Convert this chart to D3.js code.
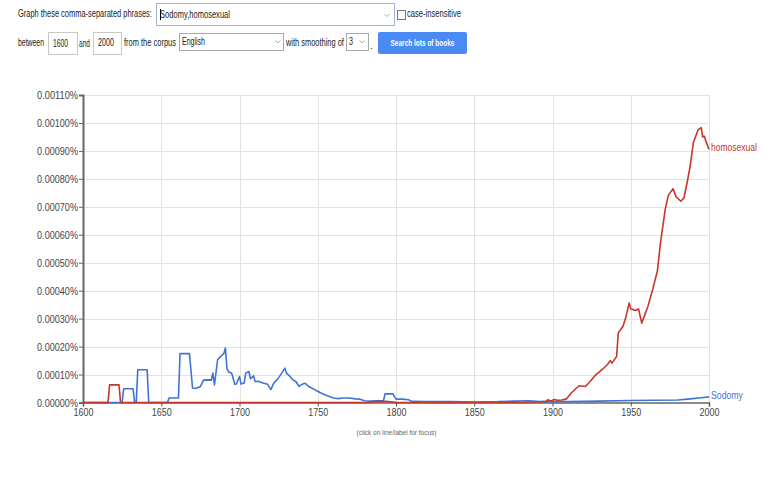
<!DOCTYPE html>
<html>
<head>
<meta charset="utf-8">
<script src="https://cdn.jsdelivr.net/npm/d3@7"></script>
<style>
  body { margin: 0; background: #fff; }
  svg { display: block; font-family: "Liberation Sans", Arial, sans-serif; }
</style>
</head>
<body>
<svg id="chart" width="778" height="480"></svg>
<script>
// phrases in the query, in drawing order
var phrases = ["Sodomy", "homosexual"];
var yearStart = 1600, yearEnd = 2000;

// Sodomy: [year, percent]
var sodomy = [
  [1600, 0], [1625, 0], [1626, 0.000049], [1632, 0.000049], [1633, 0], [1634, 0],
  [1635, 0.000117], [1641, 0.000117], [1642, 0], [1654, 0], [1655, 0.000016],
  [1661, 0.000016], [1662, 0.000175], [1668, 0.000175], [1670, 0.000052],
  [1672, 0.000050], [1675, 0.000057], [1677, 0.000080], [1681, 0.000081],
  [1682, 0.000080], [1683, 0.000105], [1684, 0.000063], [1686, 0.000153],
  [1688, 0.000165], [1689, 0.000170], [1690, 0.000175], [1691, 0.000195],
  [1692, 0.000120], [1693, 0.000110], [1695, 0.000105], [1697, 0.000065],
  [1698, 0.000066], [1700, 0.000093], [1701, 0.000066], [1703, 0.000070],
  [1704, 0.000105], [1706, 0.000111], [1707, 0.000085], [1709, 0.000095],
  [1710, 0.000075], [1712, 0.000076], [1715, 0.000070], [1718, 0.000065],
  [1720, 0.000046], [1722, 0.000070], [1724, 0.000081], [1727, 0.000105],
  [1729, 0.000123], [1730, 0.000105], [1732, 0.000095], [1734, 0.000081],
  [1736, 0.000075], [1738, 0.000058], [1740, 0.000065], [1742, 0.000069],
  [1744, 0.000058], [1746, 0.000052], [1748, 0.000046], [1750, 0.000040],
  [1752, 0.000034], [1755, 0.000027], [1757, 0.000022], [1760, 0.000016],
  [1763, 0.000014], [1766, 0.000016], [1770, 0.000016], [1774, 0.000013],
  [1777, 0.000012], [1780, 0.000006], [1784, 0.000005], [1788, 0.000006],
  [1792, 0.000006], [1793, 0.000031], [1798, 0.000031], [1800, 0.000012],
  [1804, 0.000012], [1808, 0.000010], [1810, 0.000004], [1820, 0.000003],
  [1835, 0.000003], [1850, 0.000002], [1865, 0.000003], [1875, 0.000005],
  [1885, 0.000006], [1892, 0.000003], [1910, 0.000003], [1930, 0.000005],
  [1950, 0.000007], [1965, 0.000008], [1980, 0.000009], [1988, 0.000013],
  [1995, 0.000017], [2000, 0.000020]
];

// homosexual: [year, percent]
var homosexual = [
  [1600, 0], [1616, 0], [1617, 0.000063], [1623, 0.000063], [1624, 0],
  [1782, 0], [1786, 0.000003], [1793, 0.000004], [1798, 0.000002], [1801, 0],
  [1880, 0], [1890, 0.000002], [1896, 0.000004], [1897, 0.000010],
  [1899, 0.000005], [1901, 0.000011], [1903, 0.000008], [1906, 0.000009],
  [1909, 0.000013], [1912, 0.000034], [1915, 0.000050], [1917, 0.000060],
  [1921, 0.000057], [1924, 0.000075], [1927, 0.000095], [1929, 0.000105],
  [1932, 0.000119], [1935, 0.000135], [1937, 0.000150], [1938, 0.000141],
  [1941, 0.000165], [1942, 0.000249], [1945, 0.000272], [1947, 0.000308],
  [1949, 0.000356], [1950, 0.000335], [1953, 0.000329], [1955, 0.000335],
  [1957, 0.000284], [1961, 0.000344], [1964, 0.000404], [1967, 0.000470],
  [1969, 0.000571], [1972, 0.000690], [1974, 0.000741], [1977, 0.000765],
  [1979, 0.000736], [1982, 0.000720], [1984, 0.000732], [1986, 0.000786],
  [1988, 0.000846], [1990, 0.000930], [1993, 0.000975], [1995, 0.000983],
  [1996, 0.000950], [1997, 0.000953], [1998, 0.000935], [2000, 0.000905]
];

var yTicks = [0, 0.0001, 0.0002, 0.0003, 0.0004, 0.0005, 0.0006, 0.0007, 0.0008, 0.0009, 0.0010, 0.0011];
var xTicks = [1600, 1650, 1700, 1750, 1800, 1850, 1900, 1950, 2000];

var colors = {Sodomy: "#3f74d4", homosexual: "#c8352d"};
var series = [
  {name: phrases[0], values: sodomy},
  {name: phrases[1], values: homosexual}
];

var svg = d3.select("#chart");

// the screenshot is squeezed sideways: narrow a text to a given width
function squeeze(t, px, py, len) {
  var w = t.node().getComputedTextLength();
  var k = len ? len / w : 1;
  t.attr("x", 0).attr("y", 0)
    .attr("transform", "translate(" + px + "," + py + ") scale(" + k + ",1)");
}

function label(g, str, x, y, opts) {
  opts = opts || {};
  var t = g.append("text")
    .attr("font-size", opts.size || 10)
    .attr("fill", opts.fill || "#222")
    .attr("dominant-baseline", "central")
    .text(str);
  if (opts.anchor) t.attr("text-anchor", opts.anchor);
  if (opts.weight) t.attr("font-weight", opts.weight);
  squeeze(t, x, y, opts.len);
  return t;
}

function box(g, x, y, w, h, stroke) {
  g.append("rect").attr("x", x + 0.5).attr("y", y + 0.5).attr("width", w).attr("height", h)
    .attr("fill", "#fff").attr("stroke", stroke || "#c8c8c8");
}

function arrow(g, x, y) {
  g.append("path").attr("d", "M" + (x - 2.5) + "," + (y - 1) + "L" + x + "," + (y + 1.5) + "L" + (x + 2.5) + "," + (y - 1))
    .attr("fill", "none").attr("stroke", "#999").attr("stroke-width", 0.8);
}

// ---- query form ----
var form = svg.append("g");
label(form, "Graph these comma-separated phrases:", 18, 14, {len: 134});
box(form, 156, 3, 238, 22, "#9fb3d6");
label(form, "Sodomy,homosexual", 160, 14.5, {len: 70});
form.append("line").attr("x1", 160.5).attr("x2", 160.5).attr("y1", 9).attr("y2", 20).attr("stroke", "#000");
arrow(form, 387, 15);
box(form, 397, 10, 8, 9, "#777");
label(form, "case-insensitive", 407, 14, {len: 54});

label(form, "between", 18, 43, {len: 26});
box(form, 48, 32, 29, 22);
label(form, "1600", 53, 43, {len: 15});
label(form, "and", 79, 43, {len: 11});
box(form, 93, 32, 28, 22);
label(form, "2000", 98, 43, {len: 16});
label(form, "from the corpus", 124, 43, {len: 52});
box(form, 179, 33, 104, 17, "#aaa");
label(form, "English", 182, 41.5, {len: 23});
arrow(form, 278, 41.5);
label(form, "with smoothing of", 286, 43, {len: 58});
box(form, 346, 33, 22, 17, "#aaa");
label(form, "3", 349, 41.5, {len: 4});
arrow(form, 362, 41.5);
label(form, ".", 370, 45);
form.append("rect").attr("x", 378).attr("y", 32).attr("width", 89).attr("height", 22)
  .attr("rx", 2).attr("fill", "#4a8af4");
label(form, "Search lots of books", 422.5, 43, {anchor: "middle", fill: "#fff", weight: "bold", size: 9, len: 64});

// ---- chart ----
var x = d3.scaleLinear().domain([yearStart, yearEnd]).range([83, 709]);
var y = d3.scaleLinear().domain([0, 0.0011]).range([402.5, 95]);
var fmt = function (d) { return d3.format(".5f")(d) + "%"; };

var plot = svg.append("g");

plot.append("g").selectAll("line.h").data(yTicks.slice(1)).join("line")
  .attr("x1", x(yearStart)).attr("x2", x(yearEnd))
  .attr("y1", function (d) { return Math.round(y(d)) + 0.5; })
  .attr("y2", function (d) { return Math.round(y(d)) + 0.5; })
  .attr("stroke", "#e2e2e2");

plot.append("g").selectAll("line.v").data(xTicks.slice(1)).join("line")
  .attr("x1", function (d) { return Math.round(x(d)) + 0.5; })
  .attr("x2", function (d) { return Math.round(x(d)) + 0.5; })
  .attr("y1", y(0.0011)).attr("y2", y(0))
  .attr("stroke", "#e2e2e2");

// y axis
var yAxis = plot.append("g").attr("transform", "translate(" + x(yearStart) + ",0)")
  .call(d3.axisLeft(y).tickValues(yTicks).tickFormat(fmt).tickSize(4).tickPadding(1));
yAxis.select(".domain").attr("stroke", "#666").attr("stroke-width", 2);
yAxis.selectAll(".tick line").attr("stroke", "#666");
yAxis.selectAll(".tick text").attr("font-size", 10).attr("fill", "#444")
  .attr("font-family", "Liberation Sans, Arial, sans-serif")
  .attr("dy", null).attr("dominant-baseline", "central")
  .each(function () { squeeze(d3.select(this), -5, 0, 41); });

// x axis
var xAxis = plot.append("g").attr("transform", "translate(0," + y(0) + ")")
  .call(d3.axisBottom(x).tickValues(xTicks).tickFormat(d3.format("d")).tickSize(4).tickPadding(2));
xAxis.select(".domain").attr("stroke", "#666").attr("stroke-width", 1.5);
xAxis.selectAll(".tick line").attr("stroke", "#555");
xAxis.selectAll(".tick text").attr("font-size", 10).attr("fill", "#444")
  .attr("font-family", "Liberation Sans, Arial, sans-serif")
  .attr("dy", null).attr("dominant-baseline", "central")
  .each(function () { squeeze(d3.select(this), 0, 10, 20); });

var line = d3.line()
  .x(function (d) { return x(d[0]); })
  .y(function (d) { return y(d[1]); });

plot.append("g").selectAll("path.series").data(series).join("path")
  .attr("class", "series")
  .attr("d", function (d) { return line(d.values); })
  .attr("fill", "none")
  .attr("stroke", function (d) { return colors[d.name]; })
  .attr("stroke-width", 1.6)
  .attr("stroke-linejoin", "round");

// end labels
series.forEach(function (s) {
  var last = s.values[s.values.length - 1];
  label(plot, s.name, x(last[0]) + 2, y(last[1]) - 2, {fill: colors[s.name], size: 10.5,
    len: s.name === "Sodomy" ? 32 : 46});
});

label(plot, "(click on line/label for focus)", 396.5, 432, {anchor: "middle", size: 7, fill: "#666", len: 80});
</script>
</body>
</html>
